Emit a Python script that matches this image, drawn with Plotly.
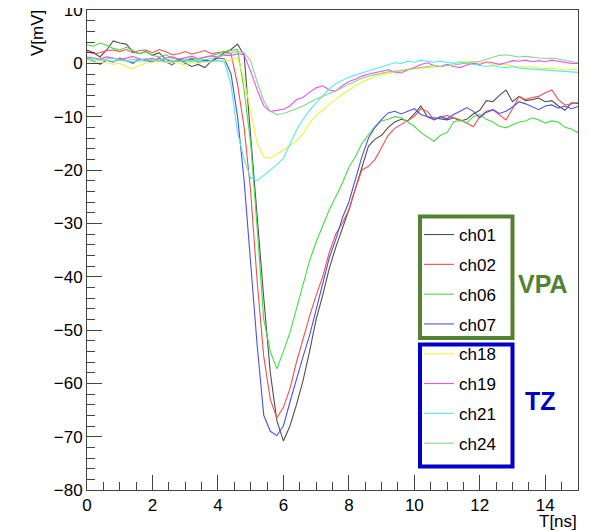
import plotly.graph_objects as go

# sampling times [ns]
t_ns = [0.0, 0.2, 0.4, 0.6, 0.8, 1.0, 1.2, 1.4, 1.6, 1.8, 2.0, 2.2, 2.4, 2.6, 2.8,
        3.0, 3.2, 3.4, 3.6, 3.8, 4.0, 4.2, 4.4, 4.6, 4.8, 5.0, 5.2, 5.4, 5.6, 5.8,
        6.0, 6.2, 6.4, 6.6, 6.8, 7.0, 7.2, 7.4, 7.6, 7.8, 8.0, 8.2, 8.4, 8.6, 8.8,
        9.0, 9.2, 9.4, 9.6, 9.8, 10.0, 10.2, 10.4, 10.6, 10.8, 11.0, 11.2, 11.4,
        11.6, 11.8, 12.0, 12.2, 12.4, 12.6, 12.8, 13.0, 13.2, 13.4, 13.6, 13.8,
        14.0, 14.2, 14.4, 14.6, 14.8, 15.0]

# VPA channels [mV]
ch01 = [2.5, 2.0, 1.2, 2.5, 4.2, 3.8, 3.6, 2.2, 1.8, 2.2, 1.5, 2.0, 0.8, 0.2, 0.8, 0.0, -0.6, -0.2, -0.8, 0.4, 1.2, 2.0,
        2.6, 3.6, 1.5, -14, -28, -44, -58, -67, -70.8,
        -68, -64, -59.5, -54, -48, -43.5, -38.5, -34.5, -31, -27.5,
        -23.5, -19.5, -15.5, -14.2, -13.5, -12, -11, -10.5, -10.8, -9.5,
        -8.0, -10, -10.2, -10.4, -10.6, -10.2, -10.8, -10.5, -9.5, -8.8,
        -7.0, -7.2, -6.0, -5.0, -7.2, -6.2, -7.0, -6.8, -6.5, -7.2,
        -7.0, -8.0, -8.8, -7.4, -7.5]
ch02 = [2.2, 1.8, 2.0, 2.4, 2.5, 2.2, 2.6, 2.0, 2.4, 2.5, 2.0, 2.6, 2.2, 1.6, 1.8, 2.2, 1.7, 2.0, 2.4, 1.8, 2.0, 2.2,
        1.8, -4, -12, -24, -41, -55, -63, -66.5, -64.5,
        -61, -56, -51.5, -47.4, -43.5, -40, -35.5, -32, -30, -27.5,
        -23.5, -20, -19.3, -18, -15.8, -13.5, -12.2, -11.5, -10.8, -10.0,
        -8.5, -9.0, -10.6, -10.0, -9.8, -10.2, -10.6, -11.2, -11.9, -10.0,
        -9.0, -8.7, -9.6, -10.6, -8.5, -6.2, -6.8, -6.4, -6.2, -5.5,
        -5.0, -6.8, -7.8, -7.6, -7.4]
ch06 = [3.5, 3.2, 3.8, 3.4, 2.8, 2.5, 3.0, 2.4, 1.8, 2.2, 1.5, 1.2, 1.6, 1.0, 0.8, 0.6, 1.0, 0.7, 1.2, 1.4, 1.8, 2.2,
        2.4, 2.6, -5, -15, -31, -48, -54, -57.3, -54,
        -50.5, -46, -41.5, -37, -33.5, -30.5, -27.5, -25, -22.5, -19.5,
        -17.5, -15, -13.5, -11.8, -10.8, -10.5, -10.0, -10.2, -11.0, -11.8,
        -13.0, -13.8, -14.6, -13.5, -13.0, -11.0, -10.6, -11.2, -10.0, -9.6,
        -10.5, -11.0, -11.8, -12.1, -11.5, -11.0, -10.8, -10.2, -10.6, -11.2,
        -10.8, -11.0, -12.0, -12.3, -13.0]
ch07 = [1.0, 0.4, -0.2, 0.6, 0.2, 1.0, 0.5, 0.0, 0.8, 0.6, 0.2, 1.0, 0.3, -0.3, 0.6, 0.4, 0.8, 0.2, 0.6, 0.4, 1.0, 0.8,
        -2, -10, -22, -37, -53, -66, -69, -69.8, -68,
        -63.5, -59, -55, -51, -46, -41, -36.5, -33, -29, -26,
        -21.5, -17.5, -14, -12, -10.5, -9.3, -9.0, -9.5, -9.0, -8.5,
        -9.6, -10, -10.6, -10, -10.4, -9.6, -9.0, -8.3, -9.0, -10.2,
        -9.2, -8.7, -9.4, -9.0, -8.2, -7.2, -7.6, -8.2, -8.7, -8.0,
        -7.8, -8.4, -8.0, -8.5, -8.1]

# TZ channels [mV]
ch18 = [0.5, 0.3, 0.0, 0.2, -0.2, 0.0, -0.6, -1.0, -0.4, 0.0, 0.2, 0.4, 0.1, 0.3, 0.0, -0.3, 0.2, 0.0, 0.3, 0.2, 0.4, 0.6,
        0.5, 1.0, -3, -9, -15, -17.5, -17.8, -17.0, -16.3,
        -15.4, -14.6, -13.2, -11.2, -9.8, -8.8, -7.6, -6.8, -5.8, -5.0,
        -4.2, -3.5, -3.0, -2.5, -2.2, -1.9, -1.7, -1.5, -1.2, -1.0,
        -0.9, -0.8, -0.6, -0.6, -0.3, 0.0, 0.2, 0.3, 0.4, 0.2,
        0.0, -0.2, -0.3, -0.2, -0.5, -0.6, -0.7, -0.6, -0.9, -1.0,
        -0.9, -1.1, -1.2, -1.1, -1.2]
ch19 = [1.2, 1.0, 0.8, 1.2, 1.0, 0.6, 1.0, 1.3, 0.8, 0.6, 1.0, 0.5, 1.0, 1.2, 0.8, 1.0, 1.3, 0.9, 1.1, 1.4, 1.2, 1.5,
        1.5, 1.8, 1.6, -1.5, -5.0, -8.0, -9.0, -8.8, -8.6,
        -8.0, -6.8, -6.4, -5.4, -4.6, -4.2, -5.0, -5.2, -4.2, -3.4,
        -3.0, -2.4, -2.0, -1.8, -1.5, -1.2, -1.6, -1.8, -1.2, -0.8,
        -0.2, 0.1, -0.4, -0.6, -0.2, -0.6, -0.8, -0.3, 0.0, -0.2,
        0.3, 0.1, -0.2, 0.1, 0.5, 0.4, 0.6, 0.3, 0.5, 0.3,
        0.6, 0.4, 0.2, 0.0, 0.0]
ch21 = [0.8, 0.6, 0.7, 0.5, 0.4, 0.6, 0.5, 0.3, 0.5, 0.4, 0.6, 0.4, 0.3, 0.5, 0.4, 0.2, 0.4, 0.5, 0.3, 0.4, 0.5, 0.2,
        -4, -13, -18, -21.5, -22, -21, -20, -19, -17.8,
        -15.2, -12.5, -10.5, -8.8, -7.4, -6.0, -4.8, -3.8, -3.2, -2.6,
        -2.2, -1.8, -1.5, -1.0, -0.6, -0.2, 0.1, 0.0, 0.4, 0.2,
        0.6, 0.4, 0.2, 0.4, 0.2, 0.0, 0.3, 0.0, -0.2, -0.4,
        -0.6, -0.4, -0.7, -0.8, -0.6, -0.9, -1.0, -1.1, -1.2, -1.3,
        -1.3, -1.5, -1.6, -1.6, -1.7]
ch24 = [0.8, 1.0, 0.6, 0.8, 1.0, 0.7, 0.5, 0.8, 0.6, 0.9, 0.7, 0.5, 0.8, 0.6, 0.4, 0.6, 0.5, 0.8, 0.7, 0.9, 1.2, 1.6,
        2.0, 2.2, 2.0, 0.5, -3.5, -7.0, -9.0, -9.6, -9.4,
        -9.0, -8.5, -8.0, -7.3, -6.7, -6.2, -5.7, -5.2, -4.6, -3.9,
        -3.3, -2.8, -2.4, -2.1, -1.8, -1.6, -1.5, -1.3, -1.1, -0.9,
        -0.8, -0.6, -0.4, -0.6, -0.5, -0.3, -0.1, 0.0, 0.2, 0.4,
        0.8, 1.2, 1.5, 1.6, 1.4, 1.2, 1.3, 1.1, 1.0, 0.9,
        1.0, 0.8, 0.6, 0.4, 0.1]

names = ["ch01", "ch02", "ch06", "ch07", "ch18", "ch19", "ch21", "ch24"]
series = [ch01, ch02, ch06, ch07, ch18, ch19, ch21, ch24]
colors = ["rgb(80,80,80)", "rgb(240,80,80)", "rgb(70,220,70)", "rgb(80,80,235)",
          "rgb(240,240,60)", "rgb(240,80,240)", "rgb(80,235,235)", "rgb(140,210,140)"]

# the page body has an 8px margin, so the figure is sized to fit the window
OFF = 8
W, H = 591 - OFF, 531 - OFF
L, R, T, B = 79, 13, 2, 41
pw, ph = W - L - R, H - T - B

def px(x):  # screen x -> paper
    return (x - OFF - L) / pw

def py(y):  # screen y -> paper
    return (H - B - (y - OFF)) / ph

FONT = "Liberation Sans, Arial, Helvetica, sans-serif"
VPA_COLOR = "#548235"
TZ_COLOR = "#0000C8"

fig = go.Figure()
for n, s, c in zip(names, series, colors):
    fig.add_trace(go.Scatter(x=t_ns, y=s, mode="lines", name=n,
                             line=dict(color=c, width=1.1),
                             legendgroup=n))

axis_common = dict(ticks="inside", ticklen=15, tickwidth=1, tickcolor="#444",
                   showline=True, linecolor="#444", linewidth=1, mirror=True,
                   showgrid=False, zeroline=False, automargin=False,
                   ticklabeloverflow="allow", tickfont=dict(size=17))

fig.update_layout(
    width=W, height=H,
    margin=dict(l=L, r=R, t=T, b=B, autoexpand=False),
    paper_bgcolor="white", plot_bgcolor="white",
    font=dict(family=FONT, size=17, color="black"),
    showlegend=True,
    legend=dict(x=px(419), y=py(217), xanchor="left", yanchor="top",
                bgcolor="rgba(0,0,0,0)", borderwidth=0,
                font=dict(family=FONT, size=17, color="black"),
                tracegroupgap=4.7, itemwidth=30, traceorder="grouped"),
    xaxis=dict(range=[0, 15], dtick=2, tick0=0,
               minor=dict(dtick=0.5, ticks="inside", ticklen=8, tickcolor="#444"),
               **axis_common),
    yaxis=dict(range=[-80, 10], dtick=10, tick0=0,
               minor=dict(dtick=2, ticks="inside", ticklen=8, tickcolor="#444"),
               **axis_common),
)

# legend frames
fig.add_shape(type="rect", xref="paper", yref="paper",
              x0=px(420), x1=px(512.5), y0=py(338), y1=py(216.5),
              line=dict(color=VPA_COLOR, width=4))
fig.add_shape(type="rect", xref="paper", yref="paper",
              x0=px(420), x1=px(512.5), y0=py(466.5), y1=py(344.5),
              line=dict(color=TZ_COLOR, width=4))

fig.add_annotation(text="<b>VPA</b>", xref="paper", yref="paper",
                   x=px(543), y=py(284), xanchor="center", yanchor="middle",
                   showarrow=False,
                   font=dict(family=FONT, size=25, color=VPA_COLOR))
fig.add_annotation(text="<b>TZ</b>", xref="paper", yref="paper",
                   x=px(540), y=py(401), xanchor="center", yanchor="middle",
                   showarrow=False,
                   font=dict(family=FONT, size=25, color=TZ_COLOR))

# axis titles
fig.add_annotation(text="V[mV]", xref="paper", yref="paper",
                   x=px(37), y=py(8), xanchor="center", yanchor="top",
                   textangle=-90, showarrow=False, font=dict(family=FONT, size=17))
fig.add_annotation(text="T[ns]", xref="paper", yref="paper",
                   x=px(579), y=py(521), xanchor="right", yanchor="middle",
                   showarrow=False, font=dict(family=FONT, size=17))

fig.write_html("out.html")
